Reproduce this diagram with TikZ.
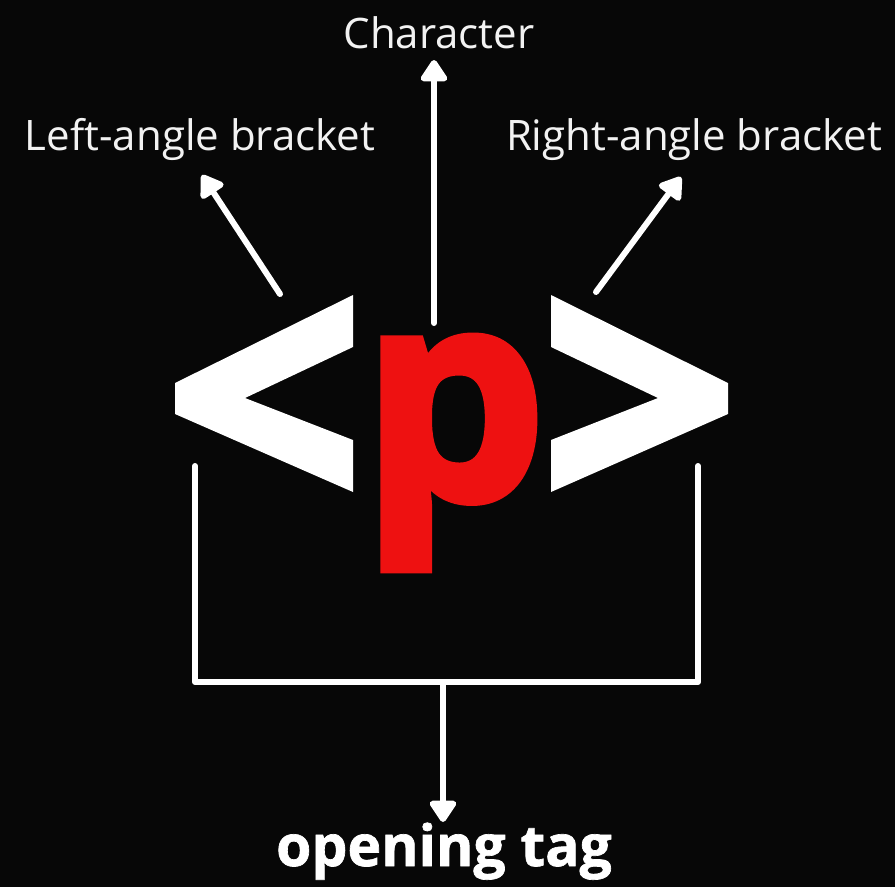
\documentclass[tikz,border=0pt]{standalone}
\usepackage{fontspec}
\setmainfont{Open Sans}
\newfontfamily\labelfont{Open Sans}
\newfontfamily\tagfont{Open Sans}[FakeBold=1.2]
\newfontfamily\pfont{Open Sans Bold}[FakeBold=2.8]
\usetikzlibrary{arrows.meta}
\definecolor{bg}{HTML}{070707}
\definecolor{fg}{HTML}{F2F2F2}
\definecolor{pred}{HTML}{EE1111}
\tikzset{
  conn/.style={draw=white, line width=6pt, line cap=round, line join=round},
  arr/.style={conn, -{Triangle[width=30pt,length=24pt,round]}},
  lbl/.style={text=fg, font=\labelfont\fontsize{42}{42}\selectfont, inner sep=0pt, anchor=base},
  bracketshape/.style={fill=white, draw=none}
}
\begin{document}
\begin{tikzpicture}[x=1pt,y=-1pt]
\fill[bg] (0,0) rectangle (895,887);
\useasboundingbox (0,0) rectangle (895,887);
% labels
\node[lbl] (char) at (439,48) {Character};
\node[lbl] (lab) at (200,150) {Left-angle bracket};
\node[lbl] (rab) at (694,150) {Right-angle bracket};
\node[text=white, font=\tagfont\bfseries\fontsize{57}{57}\selectfont, inner sep=0pt, anchor=base] (open) at (444,866) {opening tag};
% brackets
\fill[bracketshape] (353,295) -- (175,383) -- (175,414) -- (353,492) -- (353,440) -- (245,398) -- (353,347) -- cycle;
\fill[bracketshape] (551,295) -- (728,383) -- (728,414) -- (551,492) -- (551,440) -- (658,398) -- (551,347) -- cycle;
% p
\node[text=pred, font=\pfont\fontsize{292}{292}\selectfont, inner sep=0pt, anchor=base] (pchar) at (454,499) {p};
% arrow coordinates
\coordinate (lt) at (280,294);
\coordinate (lh) at (202,175);
\coordinate (ct) at (434,323);
\coordinate (ch) at (434,60);
\coordinate (rt) at (596,292);
\coordinate (rh) at (681,177);
\coordinate (bl) at (195,466);
\coordinate (blc) at (195,682);
\coordinate (br) at (698,466);
\coordinate (brc) at (698,682);
\coordinate (bm) at (443,682);
\coordinate (bh) at (443,822);
\draw[arr] (lt) -- (lh);
\draw[arr] (ct) -- (ch);
\draw[arr] (rt) -- (rh);
\draw[conn] (bl) -- (blc) -- (brc) -- (br);
\draw[arr] (bm) -- (bh);
\end{tikzpicture}
\end{document}
